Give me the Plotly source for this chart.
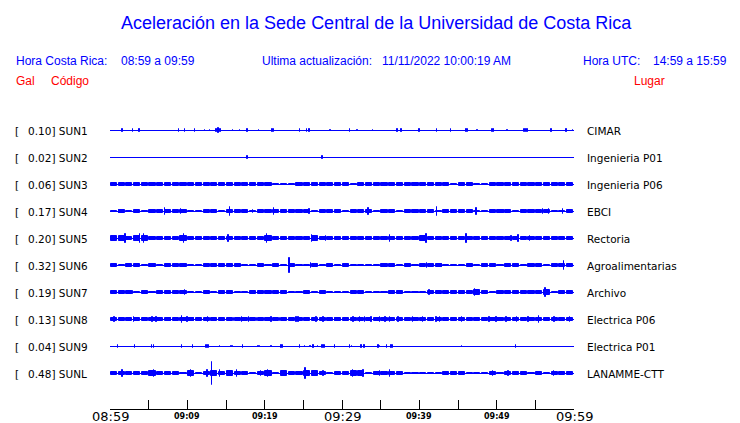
import plotly.graph_objects as go

# ---------------- data ----------------
stations = ["SUN1", "SUN2", "SUN3", "SUN4", "SUN5", "SUN6", "SUN7", "SUN8", "SUN9", "SUNL"]
peaks_gal = ["0.10", "0.02", "0.06", "0.17", "0.20", "0.32", "0.19", "0.13", "0.04", "0.48"]
places = ["CIMAR", "Ingenieria P01", "Ingenieria P06", "EBCI", "Rectoria",
          "Agroalimentarias", "Archivo", "Electrica P06", "Electrica P01", "LANAMME-CTT"]

minutes = list(range(60))  # minutes after 08:59
tick_minutes = [0, 5, 10, 15, 20, 25, 30, 35, 40, 45, 50, 55, 60]
tick_labels = ["08:59", "", "09:09", "", "09:19", "", "09:29", "", "09:39", "", "09:49", "", "09:59"]
major_labels = ["08:59", "09:29", "09:59"]

# per-minute envelope half-amplitude (Gal)
SUN1_env = [0.0] * 60
SUN2_env = [0.0] * 60
SUN3_env = [0.06, 0.06, 0.06, 0.06, 0.06, 0.06, 0.06, 0.06, 0.06, 0.06,
            0.06, 0.06, 0.05, 0.06, 0.06, 0.06, 0.06, 0.06, 0.06, 0.06,
            0.06, 0.03, 0.01, 0.03, 0.06, 0.05, 0.06, 0.06, 0.06, 0.05,
            0.05, 0.03, 0.06, 0.06, 0.06, 0.06, 0.06, 0.06, 0.06, 0.06,
            0.05, 0.06, 0.06, 0.06, 0.03, 0.06, 0.06, 0.02, 0.02, 0.06,
            0.06, 0.06, 0.06, 0.06, 0.06, 0.06, 0.06, 0.06, 0.06, 0.06]
SUN4_env = [0.03, 0.05, 0.04, 0.06, 0.03, 0.06, 0.06, 0.06, 0.06, 0.07,
            0.02, 0.04, 0.06, 0.06, 0.03, 0.06, 0.06, 0.05, 0.04, 0.06,
            0.05, 0.06, 0.06, 0.06, 0.06, 0.05, 0.04, 0.05, 0.06, 0.05,
            0.03, 0.06, 0.06, 0.05, 0.03, 0.05, 0.05, 0.04, 0.05, 0.06,
            0.06, 0.06, 0.04, 0.06, 0.05, 0.06, 0.06, 0.04, 0.04, 0.06,
            0.06, 0.05, 0.04, 0.06, 0.06, 0.05, 0.06, 0.03, 0.04, 0.06]
SUN5_env = [0.10, 0.10, 0.08, 0.12, 0.10, 0.08, 0.07, 0.07, 0.07, 0.12,
            0.08, 0.07, 0.08, 0.06, 0.08, 0.06, 0.08, 0.07, 0.08, 0.07,
            0.11, 0.07, 0.08, 0.07, 0.05, 0.08, 0.10, 0.07, 0.05, 0.07,
            0.07, 0.07, 0.07, 0.07, 0.06, 0.07, 0.08, 0.07, 0.07, 0.08,
            0.10, 0.06, 0.05, 0.07, 0.07, 0.06, 0.08, 0.07, 0.06, 0.07,
            0.08, 0.07, 0.07, 0.06, 0.08, 0.07, 0.05, 0.07, 0.07, 0.07]
SUN6_env = [0.05, 0.04, 0.06, 0.06, 0.04, 0.06, 0.03, 0.05, 0.05, 0.05,
            0.02, 0.03, 0.05, 0.06, 0.06, 0.06, 0.05, 0.02, 0.03, 0.06,
            0.03, 0.05, 0.02, 0.05, 0.02, 0.03, 0.05, 0.01, 0.05, 0.04,
            0.05, 0.03, 0.02, 0.02, 0.04, 0.06, 0.05, 0.03, 0.05, 0.04,
            0.06, 0.06, 0.06, 0.03, 0.04, 0.02, 0.05, 0.03, 0.05, 0.06,
            0.04, 0.05, 0.05, 0.04, 0.05, 0.06, 0.02, 0.05, 0.07, 0.06]
SUN7_env = [0.06, 0.06, 0.06, 0.02, 0.06, 0.03, 0.06, 0.06, 0.06, 0.05,
            0.03, 0.04, 0.06, 0.04, 0.05, 0.06, 0.04, 0.02, 0.06, 0.06,
            0.06, 0.05, 0.06, 0.03, 0.04, 0.06, 0.04, 0.05, 0.03, 0.04,
            0.02, 0.05, 0.06, 0.03, 0.04, 0.01, 0.06, 0.06, 0.03, 0.04,
            0.03, 0.06, 0.06, 0.06, 0.06, 0.06, 0.06, 0.10, 0.06, 0.03,
            0.06, 0.06, 0.05, 0.06, 0.06, 0.05, 0.12, 0.04, 0.05, 0.06]
SUN8_env = [0.07, 0.07, 0.07, 0.07, 0.07, 0.07, 0.07, 0.07, 0.05, 0.07,
            0.07, 0.07, 0.07, 0.06, 0.07, 0.07, 0.07, 0.07, 0.07, 0.07,
            0.06, 0.07, 0.07, 0.07, 0.07, 0.07, 0.07, 0.07, 0.06, 0.07,
            0.07, 0.07, 0.07, 0.07, 0.06, 0.07, 0.07, 0.07, 0.07, 0.07,
            0.07, 0.06, 0.07, 0.07, 0.07, 0.07, 0.07, 0.06, 0.07, 0.07,
            0.07, 0.07, 0.07, 0.07, 0.07, 0.07, 0.07, 0.07, 0.07, 0.07]
SUN9_env = [0.0] * 60
SUNL_env = [0.06, 0.06, 0.06, 0.06, 0.06, 0.10, 0.08, 0.06, 0.05, 0.03,
            0.10, 0.04, 0.08, 0.12, 0.07, 0.10, 0.08, 0.07, 0.04, 0.08,
            0.10, 0.04, 0.09, 0.06, 0.07, 0.10, 0.09, 0.06, 0.03, 0.07,
            0.06, 0.10, 0.10, 0.03, 0.05, 0.07, 0.08, 0.06, 0.04, 0.03,
            0.03, 0.04, 0.04, 0.06, 0.06, 0.06, 0.02, 0.02, 0.04, 0.08,
            0.03, 0.08, 0.06, 0.06, 0.04, 0.06, 0.03, 0.05, 0.06, 0.06]

# isolated peaks: time (minutes after 08:59) and half-amplitude (Gal)
SUN1_spk_t = [1.6, 3.0, 3.8, 8.9, 9.7, 11.0, 12.3, 12.9, 13.8, 14.0, 14.3, 15.9, 16.8, 17.8, 19.3,
              21.0, 21.2, 24.6, 25.5, 25.8, 28.5, 31.0, 32.0, 34.0, 37.2, 37.7, 40.0, 42.3, 44.1,
              46.1, 46.3, 47.5, 49.4, 49.6, 51.4, 53.5, 53.7, 54.0, 57.1, 59.0, 59.9]
SUN1_spk_a = [0.06, 0.06, 0.06, 0.06, 0.06, 0.06, 0.04, 0.04, 0.07, 0.10, 0.06, 0.04, 0.03, 0.05, 0.04,
              0.06, 0.05, 0.06, 0.05, 0.06, 0.04, 0.06, 0.04, 0.04, 0.06, 0.06, 0.06, 0.06, 0.06,
              0.06, 0.06, 0.04, 0.06, 0.06, 0.04, 0.06, 0.06, 0.06, 0.06, 0.06, 0.04]
SUN2_spk_t = [17.8, 27.5]
SUN2_spk_a = [0.05, 0.05]
SUN3_spk_t = []
SUN3_spk_a = []
SUN4_spk_t = [1.2, 7.1, 9.2, 15.5, 18.5, 21.2, 25.8, 31.4, 33.4, 42.3, 45.3, 47.4, 50.9, 53.4, 56.0, 56.8, 58.6]
SUN4_spk_a = [0.08, 0.15, 0.10, 0.17, 0.08, 0.14, 0.10, 0.08, 0.14, 0.17, 0.08, 0.14, 0.08, 0.08, 0.10, 0.09, 0.09]
SUN5_spk_t = [2.0, 3.9, 4.4, 9.6, 15.3, 20.3, 26.1, 27.9, 36.2, 40.9, 46.1, 51.9, 52.8, 54.3]
SUN5_spk_a = [0.20, 0.20, 0.18, 0.20, 0.16, 0.18, 0.16, 0.10, 0.14, 0.18, 0.17, 0.12, 0.14, 0.12]
SUN6_spk_t = [14.4, 23.2, 26.0, 41.0, 42.9, 58.7]
SUN6_spk_a = [0.08, 0.32, 0.10, 0.10, 0.08, 0.17]
SUN7_spk_t = [2.9, 9.7, 41.3, 47.2, 56.3]
SUN7_spk_a = [0.08, 0.10, 0.09, 0.16, 0.19]
SUN8_spk_t = [0.6, 1.6, 2.2, 3.1, 5.5, 6.0, 7.9, 9.3, 10.0, 10.8, 12.7, 14.7, 16.0, 16.6, 17.1, 18.0,
              19.0, 20.9, 22.0, 22.6, 24.1, 24.4, 25.6, 26.7, 27.6, 29.1, 29.5, 31.5, 32.3, 33.0,
              33.8, 34.9, 35.6, 36.2, 37.3, 39.2, 40.5, 42.2, 42.7, 45.5, 49.1, 50.0, 51.3, 52.6,
              54.1, 55.5, 57.5, 59.5]
SUN8_spk_a = [0.10, 0.08, 0.08, 0.10, 0.12, 0.12, 0.08, 0.13, 0.09, 0.08, 0.12, 0.08, 0.08, 0.08, 0.10, 0.10,
              0.08, 0.10, 0.08, 0.08, 0.12, 0.10, 0.08, 0.10, 0.12, 0.08, 0.08, 0.09, 0.09, 0.10,
              0.09, 0.09, 0.10, 0.09, 0.09, 0.09, 0.09, 0.09, 0.09, 0.10, 0.09, 0.09, 0.09, 0.09,
              0.10, 0.13, 0.09, 0.09]
SUN9_spk_t = [1.0, 3.2, 5.4, 5.7, 9.3, 10.7, 12.4, 12.6, 12.8, 14.2, 15.7, 15.9, 17.2, 19.2, 19.4, 20.9,
              22.2, 22.4, 24.6, 25.2, 25.9, 26.3, 26.9, 27.4, 27.6, 27.8, 29.1, 31.0, 31.3, 32.5,
              32.9, 34.7, 34.9, 35.8, 36.4, 36.6, 45.5, 52.5]
SUN9_spk_a = [0.05, 0.06, 0.05, 0.05, 0.05, 0.06, 0.05, 0.06, 0.05, 0.04, 0.04, 0.04, 0.06, 0.04, 0.04, 0.04,
              0.05, 0.05, 0.05, 0.04, 0.04, 0.05, 0.04, 0.05, 0.06, 0.05, 0.05, 0.05, 0.04, 0.05,
              0.05, 0.05, 0.04, 0.05, 0.05, 0.05, 0.04, 0.05]
SUNL_spk_t = [1.6, 5.7, 10.5, 12.6, 13.2, 14.2, 16.4, 19.5, 20.4, 22.4, 25.3, 27.6,
              31.4, 32.8, 34.9, 36.2, 49.5, 51.5, 57.4]
SUNL_spk_a = [0.14, 0.14, 0.14, 0.14, 0.48, 0.14, 0.16, 0.12, 0.14, 0.12, 0.22, 0.10,
              0.14, 0.14, 0.12, 0.14, 0.12, 0.12, 0.10]

envelopes = [SUN1_env, SUN2_env, SUN3_env, SUN4_env, SUN5_env, SUN6_env, SUN7_env, SUN8_env, SUN9_env, SUNL_env]
spike_times = [SUN1_spk_t, SUN2_spk_t, SUN3_spk_t, SUN4_spk_t, SUN5_spk_t,
               SUN6_spk_t, SUN7_spk_t, SUN8_spk_t, SUN9_spk_t, SUNL_spk_t]
spike_amps = [SUN1_spk_a, SUN2_spk_a, SUN3_spk_a, SUN4_spk_a, SUN5_spk_a,
              SUN6_spk_a, SUN7_spk_a, SUN8_spk_a, SUN9_spk_a, SUNL_spk_a]

# ---------------- style / layout ----------------
BLUE = "#0000ff"
RED = "#ff0000"
OFF = 8                                  # page body margin
W, H = 740 - OFF, 423 - OFF
PLOT_L, PLOT_R = 110 - OFF, 574 - OFF    # figure pixels
PLOT_T, PLOT_B = 115 - OFF, 409 - OFF
L, R, T, B = PLOT_L, W - PLOT_R, PLOT_T, H - PLOT_B
LANE_PX = 27
GAL_SCALE = 24.0 / LANE_PX              # lane units per Gal
Y_TOP = 15.5 / LANE_PX
Y_BOT = -(PLOT_B - PLOT_T - 15.5) / LANE_PX


def px_x(ref_px):
    return (ref_px - OFF - PLOT_L) / (PLOT_R - PLOT_L)


def px_y(ref_py):
    return (PLOT_B - (ref_py - OFF)) / (PLOT_B - PLOT_T)


fig = go.Figure()

# baselines
bx, by = [], []
for i in range(len(stations)):
    bx += [0, 60, None]
    by += [-i, -i, None]
fig.add_trace(go.Scatter(x=bx, y=by, mode="lines", line=dict(color=BLUE, width=1.2),
                         hoverinfo="skip", showlegend=False))

# envelopes
ex, eb, eh = [], [], []
for i, env in enumerate(envelopes):
    for m, a in zip(minutes, env):
        if a > 0:
            ex.append(m + 0.5)
            eb.append(-i - GAL_SCALE * a)
            eh.append(2 * GAL_SCALE * a)
fig.add_trace(go.Bar(x=ex, y=eh, base=eb, width=0.8,
                     marker=dict(color=BLUE, line=dict(width=1, color=BLUE)),
                     hoverinfo="skip", showlegend=False))

# spikes
sx, sb, sh = [], [], []
for i, (ts, amps) in enumerate(zip(spike_times, spike_amps)):
    for t, a in zip(ts, amps):
        sx.append(t)
        sb.append(-i - GAL_SCALE * a)
        sh.append(2 * GAL_SCALE * a)
fig.add_trace(go.Bar(x=sx, y=sh, base=sb, width=0.06,
                     marker=dict(color=BLUE, line=dict(width=1, color=BLUE)),
                     hoverinfo="skip", showlegend=False))

ann = []
# header
ann.append(dict(text="Aceleración en la Sede Central de la Universidad de Costa Rica",
                x=px_x(376), y=px_y(23), xanchor="center", yanchor="middle",
                font=dict(family="Liberation Sans", size=18, color=BLUE)))
hdr = [("Hora Costa Rica:", 16), ("08:59 a 09:59", 121), ("Ultima actualización:", 262),
       ("11/11/2022 10:00:19 AM", 382), ("Hora UTC:", 583), ("14:59 a 15:59", 653)]
for txt, x in hdr:
    ann.append(dict(text=txt, x=px_x(x - 2), y=px_y(61), xanchor="left", yanchor="middle",
                    font=dict(family="Liberation Sans", size=12, color=BLUE)))
for txt, x in [("Gal", 16), ("Código", 51), ("Lugar", 634)]:
    ann.append(dict(text=txt, x=px_x(x - 2), y=px_y(81), xanchor="left", yanchor="middle",
                    font=dict(family="Liberation Sans", size=12, color=RED)))

# lane labels
for i, (st, pk, pl) in enumerate(zip(stations, peaks_gal, places)):
    ann.append(dict(text="[", x=px_x(13), y=-i, yref="y", xanchor="left", yanchor="middle",
                    font=dict(family="DejaVu Sans", size=10.5, color="black")))
    ann.append(dict(text=f"{pk}] {st}", x=px_x(26), y=-i, yref="y", xanchor="left", yanchor="middle",
                    font=dict(family="DejaVu Sans", size=10.5, color="black")))
    ann.append(dict(text=pl, x=px_x(585), y=-i, yref="y", xanchor="left", yanchor="middle",
                    font=dict(family="DejaVu Sans", size=10.5, color="black")))

# time tick labels
for tm, lab in zip(tick_minutes, tick_labels):
    if not lab:
        continue
    if lab in major_labels:
        ann.append(dict(text=lab, x=tm, xref="x", y=px_y(416.5), xanchor="center", yanchor="middle",
                        borderpad=0, font=dict(family="DejaVu Sans", size=13, color="black")))
    else:
        ann.append(dict(text=f"<b>{lab}</b>", x=tm, xref="x", y=px_y(416.5), xanchor="center",
                        yanchor="middle", borderpad=0,
                        font=dict(family="DejaVu Sans", size=8, color="black")))

for a in ann:
    a.setdefault("xref", "paper")
    a.setdefault("yref", "paper")
    a["showarrow"] = False

fig.update_layout(
    width=W, height=H,
    margin=dict(l=L, r=R, t=T, b=B, pad=0),
    paper_bgcolor="white", plot_bgcolor="white",
    barmode="overlay", bargap=0,
    showlegend=False,
    annotations=ann,
    xaxis=dict(range=[0, 60], tickvals=tick_minutes, ticktext=[""] * len(tick_minutes),
               showticklabels=False, ticks="inside", ticklen=9, tickwidth=1, tickcolor="black",
               showline=True, linecolor="black", linewidth=1, showgrid=False, zeroline=False,
               fixedrange=True),
    yaxis=dict(range=[Y_BOT, Y_TOP], visible=False, showgrid=False, zeroline=False, fixedrange=True),
)

fig.write_html("out.html")
